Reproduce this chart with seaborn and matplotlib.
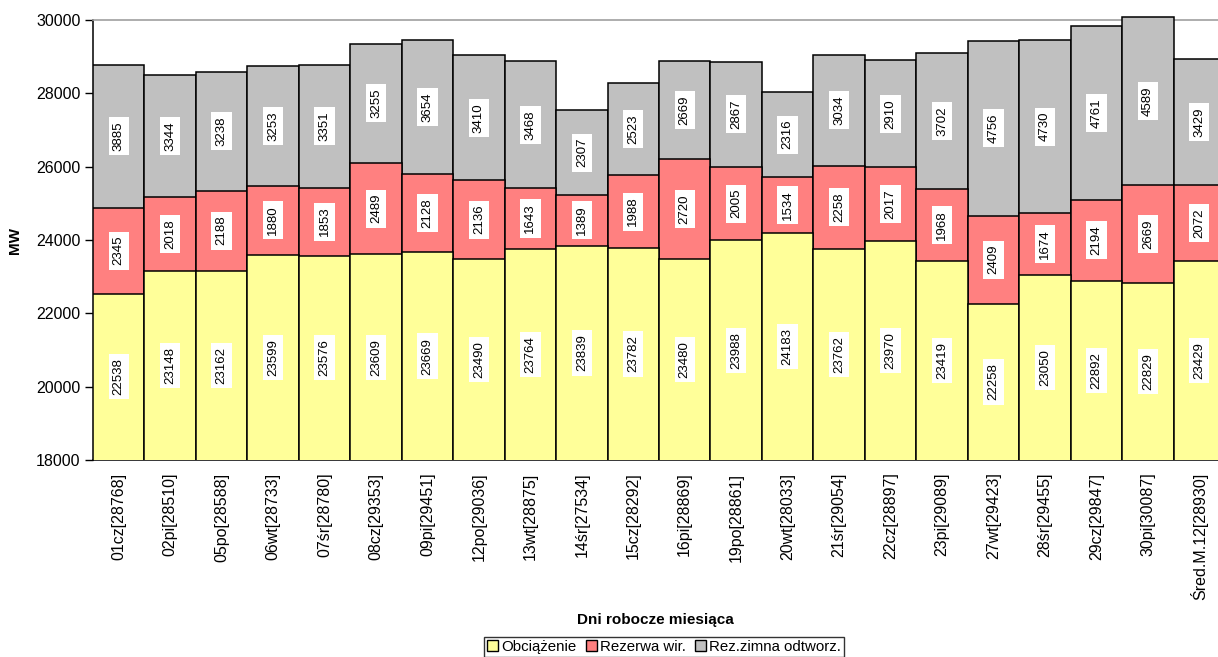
import numpy as np
import pandas as pd
import matplotlib
matplotlib.use("Agg")
import matplotlib.pyplot as plt
import seaborn as sns
from matplotlib.patches import Patch
from matplotlib.transforms import Bbox, TransformedBbox

# Working days of the month (with daily total in brackets)
dni = ["01cz[28768]", "02pi[28510]", "05po[28588]", "06wt[28733]", "07śr[28780]",
       "08cz[29353]", "09pi[29451]", "12po[29036]", "13wt[28875]", "14śr[27534]",
       "15cz[28292]", "16pi[28869]", "19po[28861]", "20wt[28033]", "21śr[29054]",
       "22cz[28897]", "23pi[29089]", "27wt[29423]", "28śr[29455]", "29cz[29847]",
       "30pi[30087]", "Śred.M.12[28930]"]

obciazenie = [22538, 23148, 23162, 23599, 23576, 23609, 23669, 23490, 23764, 23839,
              23782, 23480, 23988, 24183, 23762, 23970, 23419, 22258, 23050, 22892,
              22829, 23429]
rezerwa_wir = [2345, 2018, 2188, 1880, 1853, 2489, 2128, 2136, 1643, 1389,
               1988, 2720, 2005, 1534, 2258, 2017, 1968, 2409, 1674, 2194,
               2669, 2072]
rez_zimna = [3885, 3344, 3238, 3253, 3351, 3255, 3654, 3410, 3468, 2307,
             2523, 2669, 2867, 2316, 3034, 2910, 3702, 4756, 4730, 4761,
             4589, 3429]

y_ticks = [18000, 20000, 22000, 24000, 26000, 28000, 30000]

C_OBC = "#FFFF99"
C_REZ = "#FF8080"
C_ZIM = "#C0C0C0"

sns.set_style("white")
plt.rcParams["font.family"] = ["Liberation Sans", "DejaVu Sans"]
for key in ("text.color", "axes.labelcolor", "xtick.color", "ytick.color"):
    plt.rcParams[key] = "black"

df = pd.DataFrame({"dzien": dni, "obc": obciazenie, "rez": rezerwa_wir, "zim": rez_zimna})
df["top_rez"] = df["obc"] + df["rez"]
df["top_all"] = df["top_rez"] + df["zim"]

fig = plt.figure(figsize=(12.18, 6.57), dpi=100)
ax = fig.add_axes([93 / 1218, 1 - 460 / 657, (1225 - 93) / 1218, 440 / 657])

# Stacked bars drawn as overlapping cumulative totals
for col, color in [("top_all", C_ZIM), ("top_rez", C_REZ), ("obc", C_OBC)]:
    sns.barplot(data=df, x="dzien", y=col, color=color, saturation=1, width=1.0,
                edgecolor="black", linewidth=1.1, errorbar=None, ax=ax, zorder=3)

ymin, ymax = y_ticks[0], y_ticks[-1]
ax.set_ylim(ymin, ymax)
ax.set_xlim(-0.5, len(dni) - 0.5)

# let bars rise above the top of the value range
clip = TransformedBbox(Bbox([[0, 0], [1, 1.2]]), ax.transAxes)
for p in ax.patches:
    p.set_clip_path(None)
    p.set_clip_box(clip)

# value labels centred in each segment
box = dict(boxstyle="square,pad=0.32", fc="white", ec="none")
for i, row in df.iterrows():
    segs = [((ymin + row["obc"]) / 2, row["obc"]),
            (row["obc"] + row["rez"] / 2, row["rez"]),
            (row["top_rez"] + row["zim"] / 2, row["zim"])]
    for yc, val in segs:
        ax.text(i, yc, f"{val}", rotation=90, ha="center", va="center",
                fontsize=9.5, bbox=box, zorder=6)

ax.set_yticks(y_ticks)
ax.set_yticklabels([str(t) for t in y_ticks], fontsize=11.5)
ax.set_xticks(range(len(dni)))
ax.set_xticklabels(dni, rotation=90, fontsize=11.5)
ax.set_xticks(np.arange(-0.5, len(dni), 1.0), minor=True)
ax.tick_params(axis="x", which="major", length=0, pad=9)
ax.tick_params(axis="x", which="minor", length=6, color="#808080", width=1)
ax.tick_params(axis="y", which="major", left=True, length=6, width=1, color="black", pad=3)
ax.set_xlabel("")
ax.set_ylabel("")

ax.spines["top"].set_color("#A0A0A0")
ax.spines["top"].set_linewidth(1.2)
ax.spines["right"].set_visible(False)
ax.spines["left"].set_color("black")
ax.spines["left"].set_linewidth(1.1)
ax.spines["bottom"].set_color("black")
ax.spines["bottom"].set_linewidth(1.1)
for s in ax.spines.values():
    s.set_zorder(2)

fig.text(15 / 1218, 1 - 240 / 657, "MW", rotation=90, ha="center", va="center",
         fontsize=11, fontweight="bold")
fig.text(655 / 1218, 1 - 620 / 657, "Dni robocze miesiąca", ha="center", va="center",
         fontsize=11, fontweight="bold")

handles = [Patch(facecolor=C_OBC, edgecolor="black", label="Obciążenie"),
           Patch(facecolor=C_REZ, edgecolor="black", label="Rezerwa wir."),
           Patch(facecolor=C_ZIM, edgecolor="black", label="Rez.zimna odtworz.")]
leg = fig.legend(handles=handles, loc="center", bbox_to_anchor=(664 / 1218, 1 - 647 / 657),
                 ncol=3, frameon=True, fancybox=False, edgecolor="black", fontsize=10.8,
                 handlelength=0.75, handleheight=0.75, handletextpad=0.2,
                 columnspacing=0.6, borderpad=0.2, borderaxespad=0)
leg.get_frame().set_linewidth(1.0)

fig.savefig("out.png", dpi=100)
